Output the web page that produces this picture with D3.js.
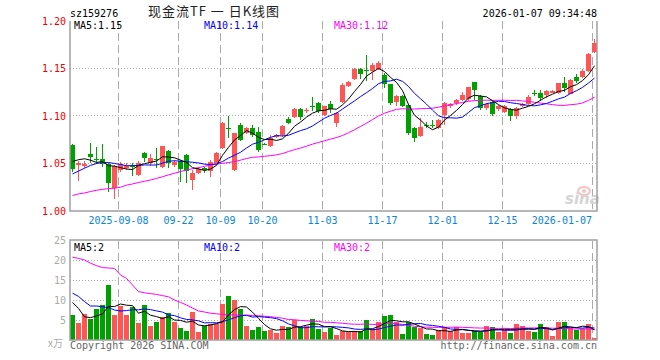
<!DOCTYPE html>
<html>
<head>
<meta charset="utf-8">
<script src="https://cdn.jsdelivr.net/npm/d3@7"></script>
<style>
  body { margin: 0; background: #fff; }
  svg { display: block; }
  text { font-family: "DejaVu Sans Mono", monospace; font-size: 10px; }
</style>
</head>
<body>
<svg width="660" height="360"></svg>
<script>
const code = "sz159276";
const title = "现金流TF 一 日K线图";
const stamp = "2026-01-07 09:34:48";

// daily bars 2025-08-27 .. 2026-01-07
const open  = [1.069,1.048,1.047,1.060,1.055,1.055,1.049,1.024,1.043,1.045,1.047,1.038,1.061,1.050,1.055,1.046,1.063,1.048,1.053,1.059,
               1.033,1.040,1.045,1.042,1.051,1.066,1.087,1.043,1.090,1.082,1.087,1.083,1.071,1.068,1.078,1.080,1.097,1.099,1.107,1.105,
               1.111,1.114,1.101,1.113,1.093,1.115,1.132,1.1385,1.150,1.148,1.1477,1.149,1.143,1.1335,1.115,1.121,1.112,1.087,1.079,1.0908,
               1.091,1.087,1.101,1.110,1.1135,1.1168,1.118,1.1355,1.121,1.108,1.115,1.107,1.1045,1.107,1.100,1.110,1.1126,1.1242,1.1239,1.122,
               1.1245,1.1245,1.1344,1.1232,1.1414,1.1414,1.1477,1.1677];
const high  = [1.070,1.053,1.053,1.072,1.067,1.071,1.050,1.048,1.052,1.050,1.050,1.053,1.062,1.060,1.066,1.068,1.064,1.054,1.054,1.060,
               1.043,1.046,1.046,1.054,1.062,1.094,1.100,1.082,1.093,1.088,1.091,1.088,1.072,1.080,1.081,1.091,1.099,1.108,1.108,1.108,
               1.120,1.115,1.111,1.116,1.104,1.135,1.137,1.151,1.151,1.164,1.156,1.158,1.145,1.134,1.122,1.122,1.113,1.088,1.098,1.094,
               1.096,1.097,1.115,1.114,1.118,1.125,1.131,1.136,1.122,1.114,1.117,1.112,1.112,1.108,1.109,1.114,1.1226,1.127,1.127,1.127,
               1.127,1.135,1.1414,1.139,1.144,1.149,1.166,1.1807];
const low   = [1.041,1.032,1.045,1.050,1.049,1.046,1.020,1.013,1.041,1.043,1.037,1.037,1.052,1.047,1.045,1.045,1.045,1.046,1.030,1.029,
               1.022,1.039,1.040,1.036,1.050,1.065,1.077,1.042,1.074,1.081,1.078,1.062,1.069,1.067,1.077,1.078,1.092,1.098,1.096,1.103,
               1.105,1.103,1.100,1.103,1.088,1.114,1.131,1.138,1.1385,1.137,1.138,1.148,1.129,1.112,1.1105,1.109,1.080,1.073,1.0775,1.087,
               1.087,1.086,1.0905,1.108,1.112,1.116,1.116,1.117,1.106,1.106,1.100,1.105,1.103,1.095,1.097,1.109,1.112,1.121,1.116,1.119,
               1.124,1.123,1.1256,1.123,1.135,1.140,1.146,1.1666];
const close = [1.044,1.051,1.0495,1.057,1.054,1.049,1.029,1.047,1.049,1.047,1.046,1.051,1.056,1.056,1.054,1.068,1.050,1.052,1.044,1.042,
               1.040,1.044,1.043,1.052,1.061,1.093,1.086,1.082,1.075,1.087,1.080,1.064,1.070,1.077,1.080,1.089,1.093,1.107,1.099,1.106,
               1.110,1.105,1.110,1.107,1.1035,1.133,1.136,1.1495,1.144,1.1475,1.1537,1.1555,1.1335,1.1135,1.121,1.1105,1.0825,1.0765,1.088,1.0905,
               1.0905,1.0958,1.1135,1.1125,1.1168,1.122,1.1308,1.1275,1.108,1.1123,1.102,1.110,1.1105,1.100,1.108,1.1126,1.1197,1.1239,1.1186,1.1263,
               1.1263,1.1344,1.1292,1.1379,1.1372,1.1477,1.1653,1.1765];
// volume, 万
const volume = [6.25,4.3,6.5,5.25,7.75,8.75,13.75,6.25,8.5,6.25,8.25,4.25,8.75,3.5,4.5,5.75,6.75,4.5,3.0,2.25,
                7.0,2.0,3.5,4.0,4.0,9.0,11.0,10.0,7.75,3.5,2.5,3.25,2.25,2.5,1.75,3.5,3.25,5.0,3.25,3.5,
                5.25,2.75,2.0,3.1,1.25,2.25,1.9,2.25,2.25,5.0,2.75,4.5,6.0,6.25,4.5,1.5,4.5,3.25,3.1,1.5,
                1.25,2.5,3.25,2.25,3.25,1.75,1.75,2.25,2.0,3.5,3.25,2.0,2.6,1.75,4.0,3.5,2.25,2.0,4.0,3.25,
                1.0,4.5,4.5,3.0,2.5,2.75,4.0,0.5];

// moving-average values before enough bars are on screen
const ma5Head  = [1.052,1.054,1.055,1.0535];
const ma10Head = [1.039,1.042,1.045,1.048,1.050,1.051,1.051,1.050,1.049];
const ma30Head = [1.0163,1.018,1.019,1.0205,1.0218,1.0228,1.0235,1.024,1.025,1.0272,1.0285,1.030,1.0313,1.0326,1.0343,
                  1.0361,1.038,1.0397,1.0415,1.0432,1.0445,1.0456,1.047,1.0484,1.0493,1.0502,1.051,1.052,1.0535];
const volMa5Head  = [9.4,7.9,5.8,5.6];
const volMa10Head = [11.7,10.9,9.6,8.5,8.5,8.3,8.1,7.5,7.25];
const volMa30Head = [20.7,20.4,20.0,19.2,18.6,18.1,18.0,17.9,16.25,15.4,13.75,12.1,11.8,11.6,11.4,
                     11.1,10.8,10.0,9.4,8.75,8.0,7.25,7.0,6.7,6.55,6.4,6.3,6.25,6.2];
const volMaLabels = [2, 2, 2];

const tickBars   = [8, 18, 25, 32, 42, 52, 62, 72, 87];
const tickLabels = ["2025-09-08","09-22","10-09","10-20","11-03","11-17","12-01","12-15","2026-01-07"];
const priceTicks = [1.00, 1.05, 1.10, 1.15, 1.20];
const volTicks   = [5, 10, 15, 20, 25];

const UP = "#ff5555", DOWN = "#00a000", GRID = "#aaaaaa", FRAME = "#a0a0a0";
const maColors = ["#000000", "#0000ff", "#ff00ff"];

var svg = d3.select("svg");

const left = 70, right = 598;
const x = d3.scaleBand().domain(d3.range(close.length)).range([left, right]);
const y = d3.scaleLinear().domain([1.00, 1.20]).range([211, 21]);
const yv = d3.scaleLinear().domain([0, 25]).range([340, 240]);
const mid = i => x(i) + 2.5;
const px = v => Math.floor(v) + 0.5;

function movingAvg(values, n, head) {
    return values.map((v, i) => i < n - 1 ? head[i] : d3.mean(values.slice(i - n + 1, i + 1)));
}
const colorOf = i => close[i] >= open[i] ? UP : DOWN;

const priceMAs = [movingAvg(close, 5, ma5Head), movingAvg(close, 10, ma10Head), movingAvg(close, 30, ma30Head)];
const volMAs = [movingAvg(volume, 5, volMa5Head), movingAvg(volume, 10, volMa10Head), movingAvg(volume, 30, volMa30Head)];

// header
svg.append("text").attr("x", 70).attr("y", 17).attr("fill", "#000").text(code);
svg.append("text").attr("x", 214).attr("y", 16).attr("text-anchor", "middle")
    .attr("xml:space", "preserve")
    .style("font-family", "'Noto Sans CJK SC', sans-serif").style("font-size", "13px")
    .style("letter-spacing", "1px")
    .attr("fill", "#222").text(title);
svg.append("text").attr("x", 597).attr("y", 17).attr("text-anchor", "end").attr("fill", "#000").text(stamp);

// grid
let grid = svg.append("g").attr("class", "grid");
grid.selectAll("line.h").data(priceTicks.slice(1, -1)).enter().append("line")
    .attr("x1", left).attr("x2", 597).attr("y1", d => px(y(d))).attr("y2", d => px(y(d)))
    .attr("stroke", GRID).attr("stroke-dasharray", "1,2");
grid.selectAll("line.vh").data(volTicks.slice(0, -1)).enter().append("line")
    .attr("x1", left).attr("x2", 597).attr("y1", d => px(yv(d))).attr("y2", d => px(yv(d)))
    .attr("stroke", GRID).attr("stroke-dasharray", "1,2");
grid.selectAll("line.v1").data(tickBars).enter().append("line")
    .attr("x1", d => x(d) + 0.5).attr("x2", d => x(d) + 0.5).attr("y1", 21).attr("y2", 211)
    .attr("stroke", GRID).attr("stroke-dasharray", "8,4");
grid.selectAll("line.v2").data(tickBars).enter().append("line")
    .attr("x1", d => x(d) + 0.5).attr("x2", d => x(d) + 0.5).attr("y1", 241).attr("y2", 340)
    .attr("stroke", GRID).attr("stroke-dasharray", "8,4");

// watermark
let logo = svg.append("g").attr("class", "logo");
logo.append("ellipse").attr("cx", 584).attr("cy", 191).attr("rx", 6).attr("ry", 4)
    .attr("fill", "none").attr("stroke", "#f2c4c4").attr("stroke-width", 2);
logo.append("circle").attr("cx", 584).attr("cy", 191).attr("r", 2).attr("fill", "#f2c4c4");
logo.append("text").attr("x", 565).attr("y", 204)
    .style("font-family", "'DejaVu Sans', sans-serif").style("font-size", "15px")
    .style("font-weight", "bold").style("font-style", "italic")
    .attr("fill", "#d4d4d4").text("sina");

// candles
let candles = svg.append("g").attr("class", "candles").selectAll("g")
    .data(d3.range(close.length)).enter().append("g").attr("fill", colorOf);
candles.append("rect")
    .attr("x", i => x(i) + 2).attr("width", 1)
    .attr("y", i => Math.round(y(high[i])))
    .attr("height", i => Math.max(1, Math.round(y(low[i])) - Math.round(y(high[i]))));
candles.append("rect")
    .attr("x", i => x(i)).attr("width", 5)
    .attr("y", i => Math.round(y(Math.max(open[i], close[i]))))
    .attr("height", i => Math.max(1, Math.round(y(Math.min(open[i], close[i]))) - Math.round(y(Math.max(open[i], close[i])))));

// volume bars
svg.append("g").attr("class", "vol").selectAll("rect")
    .data(d3.range(volume.length)).enter().append("rect")
    .attr("x", i => x(i)).attr("width", 5)
    .attr("y", i => Math.round(yv(volume[i])))
    .attr("height", i => 340 - Math.round(yv(volume[i])))
    .attr("fill", colorOf);

// moving average lines, slowest first
[2, 1, 0].forEach(k => {
    svg.append("path").datum(priceMAs[k])
        .attr("d", d3.line().x((d, i) => mid(i)).y(d => y(d)))
        .attr("fill", "none").attr("stroke", maColors[k]).attr("stroke-width", 1);
    svg.append("path").datum(volMAs[k])
        .attr("d", d3.line().x((d, i) => mid(i)).y(d => yv(d)))
        .attr("fill", "none").attr("stroke", maColors[k]).attr("stroke-width", 1);
});

// frames
let frame = svg.append("g").attr("fill", "none").attr("stroke", FRAME).attr("stroke-width", 1.5);
frame.append("path").attr("d", "M70,21V211H597V21");
frame.append("rect").attr("x", 70).attr("y", 240).attr("width", 527).attr("height", 100);

// axes labels
svg.append("g").selectAll("text").data(priceTicks).enter().append("text")
    .attr("x", 66).attr("y", d => y(d)).attr("dy", "0.35em").attr("text-anchor", "end")
    .attr("fill", "#ee0000").text(d => d.toFixed(2));
svg.append("g").selectAll("text").data(volTicks).enter().append("text")
    .attr("x", 66).attr("y", d => yv(d)).attr("dy", "0.35em").attr("text-anchor", "end")
    .attr("fill", "#aaaaaa").text(d => d);
svg.append("text").attr("x", 63).attr("y", 347).attr("text-anchor", "end")
    .attr("fill", "#aaaaaa").style("font-family", "'Noto Sans CJK SC', sans-serif").text("x万");
svg.append("g").selectAll("text").data(tickBars).enter().append("text")
    .attr("x", (d, i) => i === tickBars.length - 1 ? x(d) : x(d) + 0.5)
    .attr("y", 224)
    .attr("text-anchor", (d, i) => i === tickBars.length - 1 ? "end" : "middle")
    .attr("fill", "#0a84d8").text((d, i) => tickLabels[i]);

// legends
const names = ["MA5:", "MA10:", "MA30:"];
const legendX = [74, 204, 334];
names.forEach((n, k) => {
    svg.append("text").attr("x", legendX[k]).attr("y", 29).attr("fill", maColors[k])
        .text(n + priceMAs[k][close.length - 1].toFixed(2));
    svg.append("text").attr("x", legendX[k]).attr("y", 251).attr("fill", maColors[k])
        .text(n + volMaLabels[k]);
});

// footer
svg.append("text").attr("x", 70).attr("y", 349).attr("fill", "#666").text("Copyright 2026 SINA.COM");
svg.append("text").attr("x", 597).attr("y", 349).attr("text-anchor", "end").attr("fill", "#666")
    .text("http://finance.sina.com.cn");
</script>
</body>
</html>
